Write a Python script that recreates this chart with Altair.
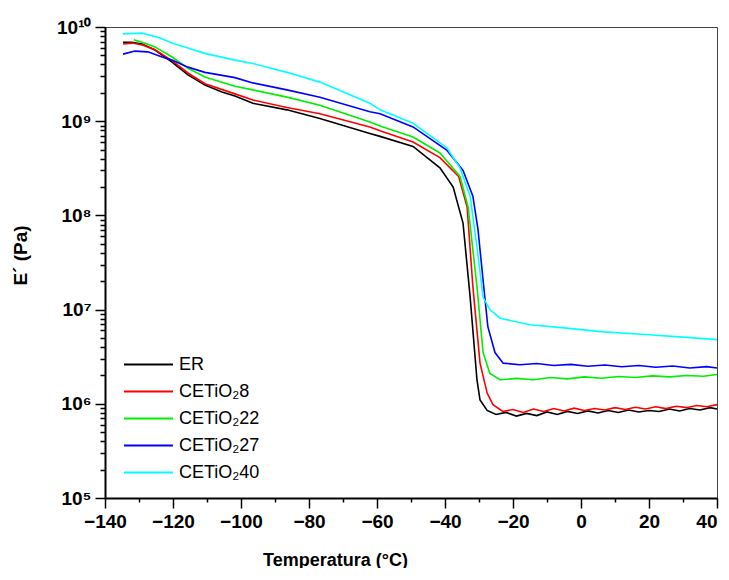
import altair as alt
import pandas as pd

series_names = ["ER", "CETiO₂8", "CETiO₂22", "CETiO₂27", "CETiO₂40"]
series_colors = ["#000000", "#ff0000", "#00ee00", "#0000ff", "#00ffff"]

er_t = [-134.7, -132.1, -129.1, -125.3, -120.3, -115.6, -110.6, -105.6, -101.8, -96.5, -86.5, -76.8, -62.1, -59.1, -49.4, -41.5, -37.6, -34.7, -32.6, -30.6, -29.7, -27.6, -25, -22, -19, -16, -13, -10, -7, -4, -1, 2, 5, 8, 11, 14, 17, 20, 23, 26, 29, 32, 35, 38, 40]
er_e = [6.9e9, 6.9e9, 6.6e9, 5.7e9, 4.25e9, 3.1e9, 2.42e9, 2.04e9, 1.85e9, 1.55e9, 1.32e9, 1.07e9, 7.4e8, 6.9e8, 5.4e8, 3.2e8, 2.0e8, 8.3e7, 1.35e7, 1.8e6, 1.1e6, 8.5e5, 7.7e5, 8.1e5, 7.4e5, 7.9e5, 7.5e5, 8.2e5, 7.7e5, 8.3e5, 7.9e5, 8.4e5, 8.0e5, 8.5e5, 8.1e5, 8.6e5, 8.2e5, 8.5e5, 8.3e5, 8.8e5, 8.4e5, 8.9e5, 8.6e5, 9.1e5, 8.8e5]

c8_t = [-134.7, -132, -129, -125.3, -120.3, -115.6, -110.6, -101.8, -96.5, -86.5, -76.8, -62.1, -59.1, -49.4, -41.5, -36, -33.5, -31.8, -29.7, -27.6, -25.9, -23, -20, -17, -14, -11, -8, -5, -2, 1, 4, 7, 10, 13, 16, 19, 22, 25, 28, 31, 34, 37, 40]
c8_e = [6.6e9, 6.75e9, 6.45e9, 5.75e9, 4.4e9, 3.25e9, 2.5e9, 1.95e9, 1.68e9, 1.4e9, 1.2e9, 8.7e8, 7.9e8, 6.0e8, 4.1e8, 2.6e8, 1.23e8, 1.75e7, 2.7e6, 1.3e6, 9.8e5, 8.3e5, 8.7e5, 8.1e5, 8.8e5, 8.3e5, 8.9e5, 8.4e5, 9.0e5, 8.5e5, 8.9e5, 8.6e5, 9.1e5, 8.7e5, 9.2e5, 8.8e5, 9.3e5, 8.9e5, 9.4e5, 9.1e5, 9.6e5, 9.3e5, 9.8e5]

c22_t = [-131.5, -129.1, -125.3, -120.3, -115.6, -110.6, -101.8, -96.5, -86.5, -76.8, -62.1, -59.1, -49.4, -41.5, -35.6, -33.2, -30.6, -28.8, -26.8, -23.8, -19, -14, -9, -4, 1, 6, 11, 16, 21, 26, 31, 36, 40]
c22_e = [7.3e9, 6.9e9, 6.15e9, 4.8e9, 3.65e9, 2.95e9, 2.35e9, 2.15e9, 1.8e9, 1.48e9, 9.8e8, 8.9e8, 6.8e8, 4.6e8, 2.6e8, 1.23e8, 1.75e7, 3.5e6, 2.1e6, 1.8e6, 1.86e6, 1.8e6, 1.9e6, 1.84e6, 1.93e6, 1.87e6, 1.95e6, 1.9e6, 1.98e6, 1.93e6, 2.0e6, 1.96e6, 2.05e6]

c27_t = [-134.7, -131.2, -127.4, -123.2, -120.3, -115.6, -110.6, -101.8, -96.5, -86.5, -76.8, -62.1, -59.1, -49.4, -39.4, -34.7, -31.8, -30.3, -28.8, -27.4, -25.3, -22.9, -18, -13, -8, -3, 2, 7, 12, 17, 22, 27, 32, 37, 40]
c27_e = [5.15e9, 5.55e9, 5.45e9, 4.8e9, 4.45e9, 3.75e9, 3.3e9, 2.9e9, 2.55e9, 2.15e9, 1.8e9, 1.26e9, 1.2e9, 8.7e8, 4.9e8, 3.0e8, 1.6e8, 7.1e7, 2.05e7, 6.6e6, 3.5e6, 2.7e6, 2.6e6, 2.68e6, 2.55e6, 2.62e6, 2.5e6, 2.58e6, 2.47e6, 2.55e6, 2.44e6, 2.52e6, 2.4e6, 2.48e6, 2.4e6]

c40_t = [-134.7, -129.1, -124, -120.3, -115.6, -110.6, -101.8, -96.5, -86.5, -76.8, -62.1, -59.1, -49.4, -39.4, -35.6, -32.6, -30.6, -28.8, -26.8, -23.8, -15, -5, 6.5, 20, 30, 40]
c40_e = [8.45e9, 8.6e9, 7.7e9, 6.75e9, 6.0e9, 5.25e9, 4.45e9, 4.1e9, 3.3e9, 2.6e9, 1.55e9, 1.32e9, 9.5e8, 5.2e8, 3.2e8, 1.6e8, 4.6e7, 1.35e7, 1.0e7, 8.1e6, 6.9e6, 6.4e6, 5.8e6, 5.4e6, 5.1e6, 4.8e6]

x_ticks = list(range(-140, 41, 10))
y_ticks = [m * 10 ** d for d in range(5, 10) for m in range(1, 10)] + [1e10]

rows = []
for name, ts, es in zip(series_names, [er_t, c8_t, c22_t, c27_t, c40_t], [er_e, c8_e, c22_e, c27_e, c40_e]):
    for i, (t, e) in enumerate(zip(ts, es)):
        rows.append({"serie": name, "T": t, "E": e, "i": i})
df = pd.DataFrame(rows)

y_label_expr = (
    "datum.value == 100000 ? '10⁵' : datum.value == 1000000 ? '10⁶' : "
    "datum.value == 10000000 ? '10⁷' : datum.value == 100000000 ? '10⁸' : "
    "datum.value == 1000000000 ? '10⁹' : datum.value == 10000000000 ? '10¹⁰' : ''"
)
y_minor = "abs(log(datum.value)/LN10 - round(log(datum.value)/LN10)) > 0.001"
x_minor = "datum.value % 20 != 0"

chart = alt.Chart(df).mark_line(strokeWidth=1.6, interpolate="linear").encode(
    x=alt.X("T:Q",
            scale=alt.Scale(domain=[-140, 40], nice=False, zero=False),
            axis=alt.Axis(values=x_ticks,
                          labelExpr="datum.value % 20 == 0 ? datum.label : ''",
                          title="Temperatura (°C)",
                          tickSize=10,
                          tickDash={"condition": {"test": x_minor, "value": [4, 30]}, "value": [10, 0]},
                          labelAlign={"condition": {"test": "datum.value == 40", "value": "right"}, "value": "center"},
                          labelFlush=False, labelOverlap=False, labelPadding=4,
                          titleX=230, titleY=62, titleAnchor="start", titleAlign="center",
                          titleBaseline="middle", titleFontSize=18)),
    y=alt.Y("E:Q",
            scale=alt.Scale(type="log", domain=[1e5, 1e10], nice=False),
            axis=alt.Axis(values=y_ticks, labelExpr=y_label_expr,
                          tickSize=10,
                          tickDash={"condition": {"test": y_minor, "value": [5, 30]}, "value": [10, 0]},
                          title="E´ (Pa)", titleX=-85, titleY=228, titleAlign="center",
                          titleAnchor="start", titleBaseline="middle", titleAngle=270,
                          labelOverlap=False, labelFlush=False, labelPadding=4)),
    color=alt.Color("serie:N",
                    scale=alt.Scale(domain=series_names, range=series_colors),
                    sort=series_names,
                    legend=alt.Legend(title=None, orient="none", legendX=18, legendY=324,
                                      symbolType="stroke", symbolSize=2401,
                                      symbolStrokeWidth=2, labelFontSize=18,
                                      labelFont="Liberation Sans", labelFontWeight="normal",
                                      labelColor="#000", clipHeight=27, rowPadding=0,
                                      labelOffset=5)),
    order="i:Q",
    detail="serie:N",
).properties(
    width=612, height=471,
    autosize=alt.AutoSizeParams(type="none"),
    padding={"left": 97, "top": 19, "right": 4, "bottom": 70},
).configure_view(
    stroke="#444", strokeWidth=1
).configure_axis(
    domainColor="#000", domainWidth=2, tickColor="#000", tickWidth=1.5,
    labelFont="Liberation Sans", labelFontSize=19, labelFontWeight="bold", labelColor="#000",
    titleFont="Liberation Sans", titleFontSize=19, titleFontWeight="bold", titleColor="#000",
    grid=False
)

chart.save("out.html", embed_options={"renderer": "svg", "actions": False})
